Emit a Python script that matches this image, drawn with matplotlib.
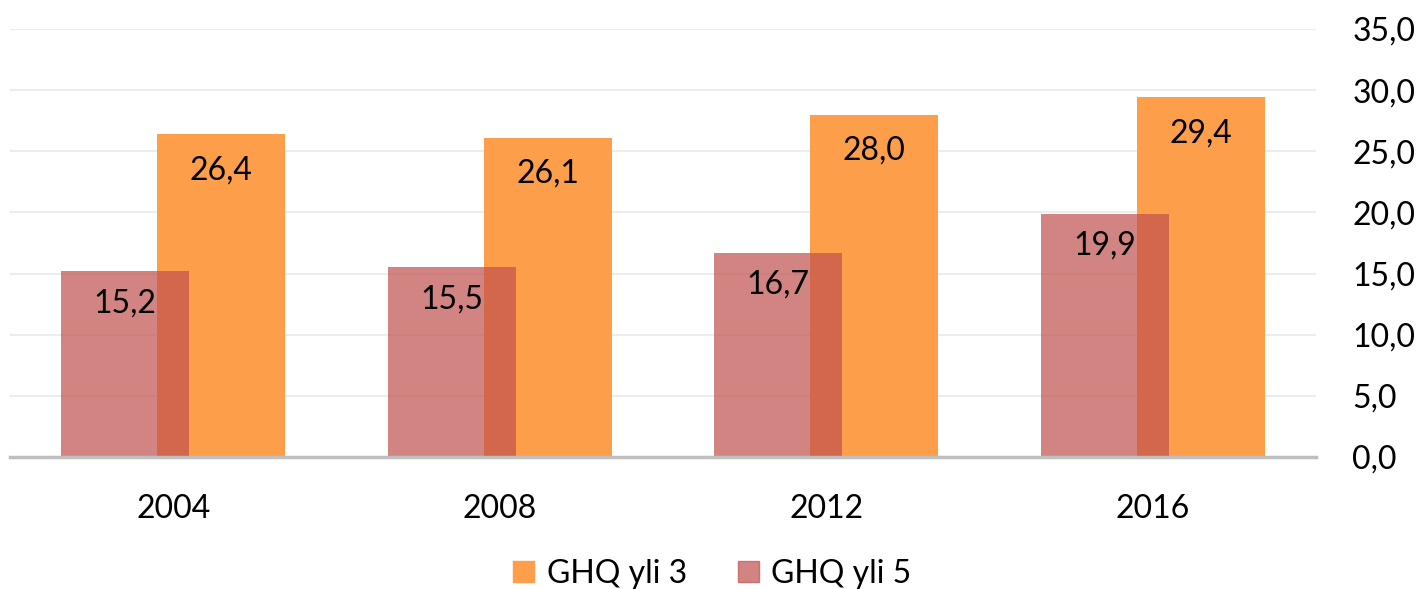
import numpy as np
import matplotlib.pyplot as plt
from matplotlib.patches import Patch

plt.rcParams['font.family'] = ['Lato', 'DejaVu Sans']

years = ['2004', '2008', '2012', '2016']
ghq_yli_3 = [26.4, 26.1, 28.0, 29.4]
ghq_yli_5 = [15.2, 15.5, 16.7, 19.9]

orange = '#FD9E4B'
red = '#C0504D'

fig = plt.figure(figsize=(14.19, 5.89), dpi=100)
ax = fig.add_axes([10 / 1419, 1 - 457 / 589, 1306 / 1419, 428 / 589])

x = np.arange(len(years))
width = 0.392
offset = 0.147

bars3 = ax.bar(x + offset, ghq_yli_3, width, color=orange, zorder=2)
bars5 = ax.bar(x - offset, ghq_yli_5, width, color=red, alpha=0.7, zorder=3)

for b, v in zip(bars3, ghq_yli_3):
    ax.annotate(f'{v:.1f}'.replace('.', ','), (b.get_x() + b.get_width() / 2, v),
                xytext=(0, -36), textcoords='offset pixels', ha='center', va='center',
                fontsize=23, zorder=5)
for b, v in zip(bars5, ghq_yli_5):
    ax.annotate(f'{v:.1f}'.replace('.', ','), (b.get_x() + b.get_width() / 2, v),
                xytext=(0, -32), textcoords='offset pixels', ha='center', va='center',
                fontsize=23, zorder=5)

ax.set_xlim(-0.5, 3.5)
ax.set_ylim(0, 35)
ax.set_xticks(x)
ax.set_xticklabels(years, fontsize=23)
ax.set_yticks(np.arange(0, 36, 5))
ax.set_yticklabels([f'{t:.1f}'.replace('.', ',') for t in np.arange(0, 36, 5)], fontsize=23)
ax.yaxis.tick_right()
ax.tick_params(axis='y', length=0, pad=26)
ax.tick_params(axis='x', length=0, pad=27)
ax.grid(axis='y', color='#EDEDED', linewidth=1.5, zorder=0)
ax.set_axisbelow(True)
for s in ['top', 'left', 'right']:
    ax.spines[s].set_visible(False)
ax.spines['bottom'].set_color('#BFBFBF')
ax.spines['bottom'].set_linewidth(2.5)
ax.spines['bottom'].set_zorder(4)

handles = [Patch(color=orange, label='GHQ yli 3'),
           Patch(color=red, alpha=0.7, label='GHQ yli 5')]
fig.legend(handles=handles, loc='center', bbox_to_anchor=(0.502, 1 - 574 / 589),
           ncol=2, frameon=False, fontsize=23, handlelength=0.65, handleheight=0.65,
           handletextpad=0.4, columnspacing=1.6)

fig.savefig('out.png', dpi=100)
